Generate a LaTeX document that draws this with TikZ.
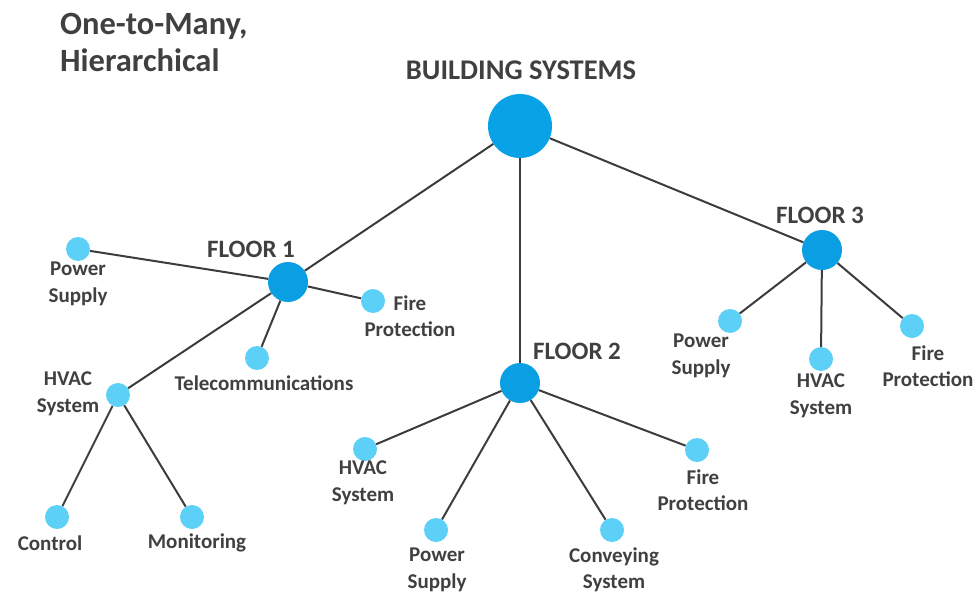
\documentclass[tikz,border=0pt]{standalone}
\usepackage{fontspec}
\setmainfont{Carlito}
\definecolor{txt}{HTML}{404040}
\definecolor{big}{HTML}{0AA2E6}
\definecolor{mid}{HTML}{0A9EE2}
\definecolor{small}{HTML}{5CD0F6}
\definecolor{edge}{HTML}{3C3C3C}
\begin{document}
\begin{tikzpicture}[x=1pt,y=-1pt,
  rootnode/.style={circle,fill=big,minimum size=64pt,inner sep=0pt},
  floornode/.style={circle,fill=mid,minimum size=40pt,inner sep=0pt},
  leafnode/.style={circle,fill=small,minimum size=24pt,inner sep=0pt},
  lbl/.style={text=txt,font=\fontsize{21}{26.5}\selectfont\bfseries,align=center,inner sep=0pt},
  flbl/.style={text=txt,font=\fontsize{25}{28}\selectfont\bfseries,inner sep=0pt},
  conn/.style={draw=edge,line width=2pt}]
\useasboundingbox (0,0) rectangle (979,599);
% title
\node[text=txt,font=\fontsize{32.5}{37}\selectfont\bfseries,align=left,anchor=north west,inner sep=0pt] (title) at (60,13) {One-to-Many,\\Hierarchical};
% nodes
\node[rootnode] (root) at (520,126) {};
\node[flbl,font=\fontsize{28.5}{30}\selectfont\bfseries] (rootl) at (521,70) {BUILDING SYSTEMS};
\node[floornode] (f1) at (288,282) {};
\node[flbl] (f1l) at (251,249) {FLOOR 1};
\node[floornode] (f2) at (520,383) {};
\node[flbl] (f2l) at (577,351) {FLOOR 2};
\node[floornode] (f3) at (822,250) {};
\node[flbl] (f3l) at (820,215) {FLOOR 3};
% floor 1 leaves
\node[leafnode] (p1) at (78,249) {};
\node[lbl] (p1l) at (78,284) {Power\\Supply};
\node[leafnode] (fp1) at (373,301) {};
\node[lbl] (fp1l) at (410,316) {Fire\\Protection};
\node[leafnode] (t1) at (257,358) {};
\node[lbl] (t1l) at (264,383) {Telecommunications};
\node[leafnode] (h1) at (118,395) {};
\node[lbl] (h1l) at (68,394) {HVAC\\System};
\node[leafnode] (c1) at (57,517) {};
\node[lbl] (c1l) at (50,543) {Control};
\node[leafnode] (m1) at (192,517) {};
\node[lbl] (m1l) at (197,543) {Monitoring};
% floor 2 leaves
\node[leafnode] (h2) at (365,449) {};
\node[lbl] (h2l) at (363,483) {HVAC\\System};
\node[leafnode] (p2) at (436,530) {};
\node[lbl] (p2l) at (437,570) {Power\\Supply};
\node[leafnode] (cv2) at (612,530) {};
\node[lbl] (cv2l) at (614,570) {Conveying\\System};
\node[leafnode] (fp2) at (697,450) {};
\node[lbl] (fp2l) at (703,490) {Fire\\Protection};
% floor 3 leaves
\node[leafnode] (p3) at (730,321) {};
\node[lbl] (p3l) at (701,356) {Power\\Supply};
\node[leafnode] (h3) at (821,359) {};
\node[lbl] (h3l) at (821,396) {HVAC\\System};
\node[leafnode] (fp3) at (912,326) {};
\node[lbl] (fp3l) at (928,366) {Fire\\Protection};
% connectors
\draw[conn] (root) -- (f1);
\draw[conn] (root) -- (f2);
\draw[conn] (root) -- (f3);
\draw[conn] (f1) -- (p1);
\draw[conn] (f1) -- (fp1);
\draw[conn] (f1) -- (t1);
\draw[conn] (f1) -- (h1);
\draw[conn] (h1) -- (c1);
\draw[conn] (h1) -- (m1);
\draw[conn] (f2) -- (h2);
\draw[conn] (f2) -- (p2);
\draw[conn] (f2) -- (cv2);
\draw[conn] (f2) -- (fp2);
\draw[conn] (f3) -- (p3);
\draw[conn] (f3) -- (h3);
\draw[conn] (f3) -- (fp3);
\end{tikzpicture}
\end{document}
